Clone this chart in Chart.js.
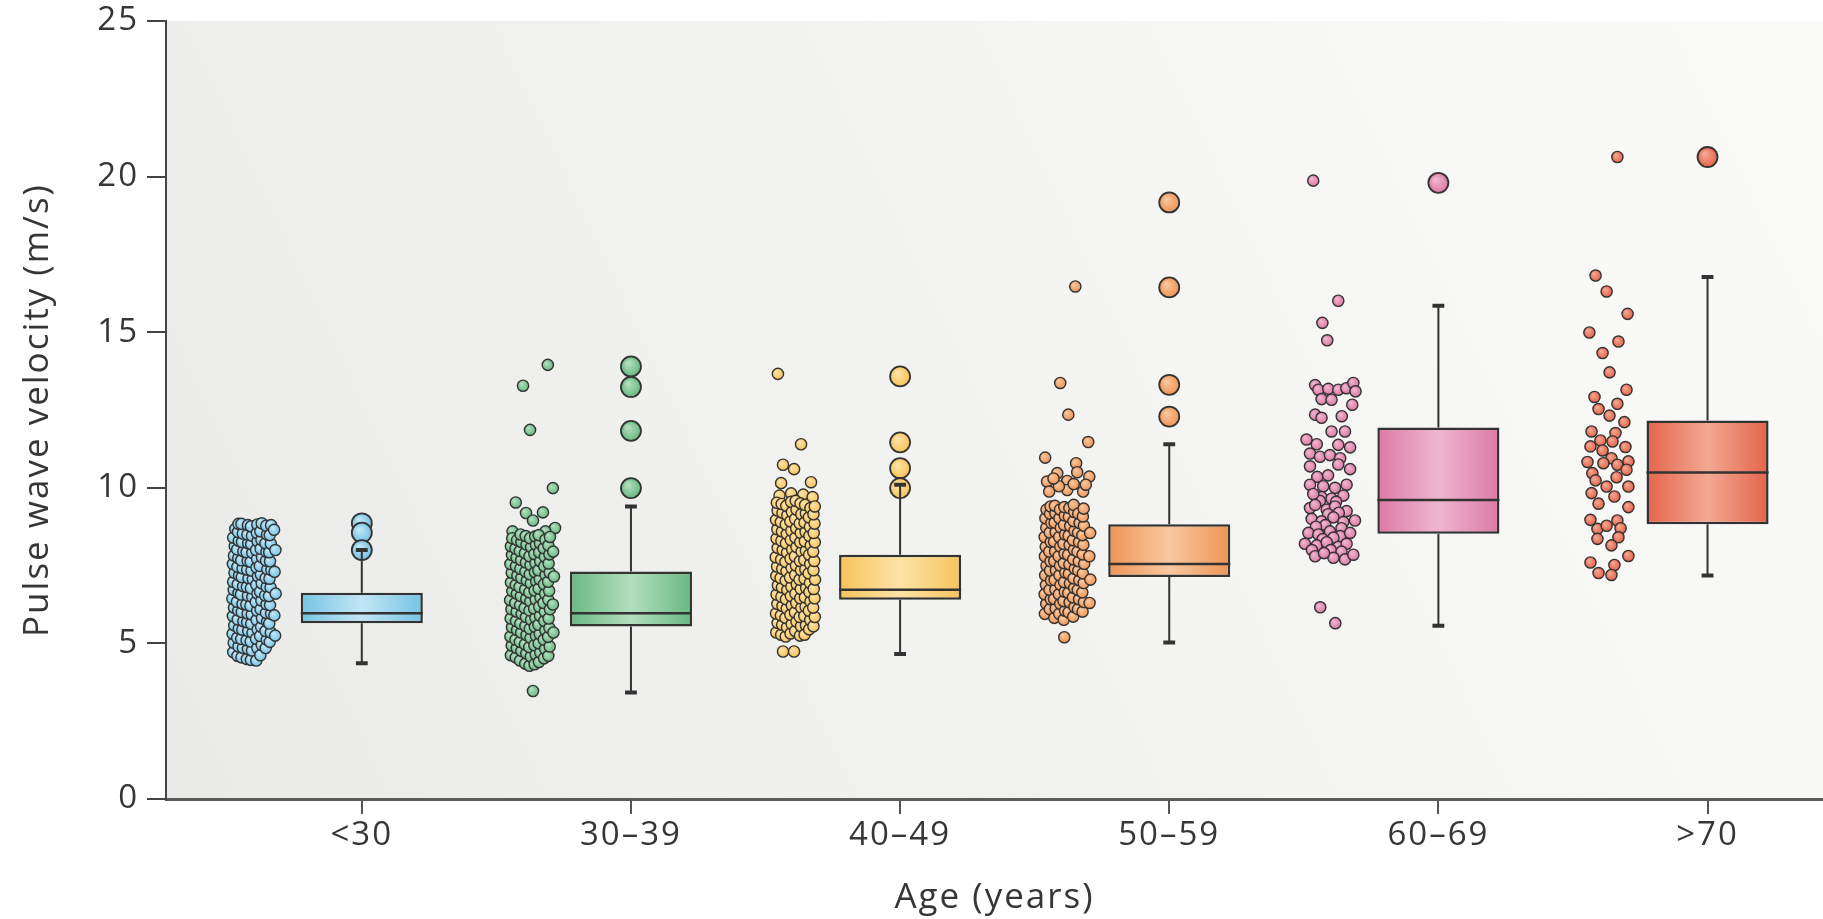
<!DOCTYPE html>
<html>
<head>
<meta charset="utf-8">
<script src="https://cdn.jsdelivr.net/npm/chart.js@4/dist/chart.umd.min.js"></script>
<style>
html,body{margin:0;padding:0;background:#fff;}
#c{display:block;}
</style>
</head>
<body>
<canvas id="c" width="1823" height="919"></canvas>
<script>
// ---------- DATA ----------
const categories = ['<30', '30–39', '40–49', '50–59', '60–69', '>70'];
const q1          = [5.65, 5.54, 6.40, 7.13, 8.52, 8.83];
const median      = [5.97, 5.97, 6.72, 7.55, 9.61, 10.49];
const q3          = [6.63, 7.31, 7.85, 8.83, 11.94, 12.16];
const whiskerLow  = [4.36, 3.42, 4.66, 5.03, 5.57, 7.18];
const whiskerHigh = [8.00, 9.40, 10.10, 11.40, 15.85, 16.77];
const outliers = [
  [8.86, 8.56, 8.00],
  [13.90, 13.24, 11.83, 9.99],
  [13.58, 11.46, 10.63, 9.99],
  [19.17, 16.44, 13.31, 12.29],
  [19.80],
  [20.63]
];
const yTicks = [0, 5, 10, 15, 20, 25];

// individual measurements: [offset from category position, value]
const cloudLt30 = [
[-0.478,4.72],[-0.476,5.02],[-0.480,5.31],[-0.474,5.58],[-0.479,5.88],[-0.475,6.15],[-0.481,6.44],[-0.476,6.72],[-0.478,6.98],[-0.473,7.27],[-0.479,7.55],[-0.475,7.82],[-0.472,8.12],[-0.478,8.40],[-0.470,8.68],
[-0.462,4.60],[-0.458,4.90],[-0.463,5.18],[-0.457,5.48],[-0.461,5.77],[-0.459,6.06],[-0.464,6.34],[-0.458,6.62],[-0.461,6.90],[-0.456,7.18],[-0.462,7.46],[-0.459,7.74],[-0.463,8.02],[-0.457,8.30],[-0.460,8.58],[-0.458,8.84],
[-0.447,4.55],[-0.442,4.86],[-0.448,5.14],[-0.444,5.44],[-0.440,5.71],[-0.446,6.01],[-0.443,6.27],[-0.449,6.57],[-0.441,6.84],[-0.446,7.13],[-0.443,7.41],[-0.448,7.67],[-0.440,7.96],[-0.445,8.26],[-0.442,8.53],[-0.447,8.84],
[-0.427,4.50],[-0.423,4.82],[-0.428,5.10],[-0.422,5.40],[-0.426,5.68],[-0.424,5.96],[-0.429,6.25],[-0.423,6.53],[-0.427,6.81],[-0.421,7.09],[-0.426,7.37],[-0.424,7.65],[-0.428,7.93],[-0.422,8.22],[-0.425,8.50],[-0.423,8.80],
[-0.412,4.47],[-0.408,4.77],[-0.413,5.06],[-0.406,5.34],[-0.411,5.63],[-0.409,5.93],[-0.414,6.21],[-0.407,6.49],[-0.412,6.77],[-0.405,7.06],[-0.410,7.34],[-0.413,7.62],[-0.407,7.91],[-0.411,8.19],[-0.408,8.46],[-0.412,8.76],
[-0.392,4.45],[-0.388,4.85],[-0.393,5.15],[-0.387,5.45],[-0.391,5.75],[-0.389,6.05],[-0.394,6.33],[-0.388,6.60],[-0.392,6.88],[-0.386,7.16],[-0.391,7.44],[-0.389,7.72],[-0.393,8.00],[-0.387,8.28],[-0.390,8.55],[-0.388,8.82],
[-0.377,4.62],[-0.372,4.95],[-0.378,5.24],[-0.374,5.53],[-0.371,5.81],[-0.376,6.10],[-0.373,6.38],[-0.378,6.66],[-0.372,6.93],[-0.375,7.21],[-0.379,7.49],[-0.371,7.77],[-0.376,8.04],[-0.373,8.33],[-0.377,8.60],[-0.372,8.86],
[-0.357,4.85],[-0.353,5.12],[-0.358,5.40],[-0.352,5.70],[-0.356,5.98],[-0.354,6.26],[-0.359,6.54],[-0.353,6.82],[-0.357,7.10],[-0.351,7.38],[-0.356,7.66],[-0.354,7.94],[-0.358,8.22],[-0.352,8.50],[-0.355,8.78],
[-0.342,5.05],[-0.338,5.35],[-0.344,5.64],[-0.337,5.95],[-0.341,6.23],[-0.345,6.52],[-0.339,6.80],[-0.343,7.08],[-0.336,7.36],[-0.341,7.64],[-0.344,7.93],[-0.338,8.20],[-0.342,8.48],[-0.337,8.80],
[-0.322,5.25],[-0.325,5.90],[-0.320,6.60],[-0.324,7.30],[-0.321,8.00],[-0.326,8.65]
];
const cloud3039 = [
[-0.309,13.95],[-0.401,13.28],[-0.375,11.86],[-0.290,9.99],[-0.428,9.53],[-0.390,9.19],[-0.327,9.21],[-0.364,8.95],[-0.364,3.47],
[-0.440,8.60],[-0.282,8.71],[-0.318,8.60],
[-0.446,4.62],[-0.443,4.93],[-0.448,5.22],[-0.442,5.52],[-0.447,5.80],[-0.444,6.10],[-0.449,6.39],[-0.441,6.68],[-0.446,6.96],[-0.443,7.27],[-0.448,7.55],[-0.442,7.84],[-0.446,8.12],[-0.441,8.38],
[-0.428,4.55],[-0.424,4.85],[-0.429,5.12],[-0.423,5.43],[-0.427,5.72],[-0.425,6.02],[-0.430,6.30],[-0.424,6.60],[-0.428,6.88],[-0.422,7.18],[-0.427,7.48],[-0.425,7.76],[-0.429,8.05],[-0.423,8.32],
[-0.412,4.45],[-0.407,4.76],[-0.413,5.05],[-0.408,5.35],[-0.411,5.64],[-0.406,5.95],[-0.412,6.23],[-0.409,6.52],[-0.414,6.81],[-0.407,7.10],[-0.411,7.40],[-0.408,7.68],[-0.413,7.97],[-0.407,8.26],[-0.410,8.50],
[-0.393,4.35],[-0.389,4.68],[-0.394,4.97],[-0.388,5.27],[-0.392,5.56],[-0.390,5.85],[-0.395,6.14],[-0.389,6.44],[-0.393,6.73],[-0.387,7.02],[-0.392,7.31],[-0.390,7.60],[-0.394,7.90],[-0.388,8.18],[-0.391,8.45],
[-0.377,4.28],[-0.372,4.58],[-0.378,4.88],[-0.373,5.18],[-0.376,5.47],[-0.371,5.76],[-0.377,6.06],[-0.374,6.35],[-0.378,6.64],[-0.372,6.93],[-0.376,7.22],[-0.373,7.52],[-0.377,7.80],[-0.371,8.10],[-0.375,8.38],
[-0.358,4.33],[-0.354,4.64],[-0.359,4.94],[-0.353,5.24],[-0.357,5.53],[-0.355,5.82],[-0.360,6.12],[-0.354,6.41],[-0.358,6.70],[-0.352,7.00],[-0.357,7.29],[-0.355,7.58],[-0.359,7.87],[-0.353,8.16],[-0.356,8.44],
[-0.342,4.40],[-0.337,4.71],[-0.343,5.00],[-0.339,5.30],[-0.344,5.60],[-0.338,5.89],[-0.341,6.18],[-0.336,6.47],[-0.343,6.76],[-0.339,7.06],[-0.344,7.35],[-0.337,7.64],[-0.341,7.93],[-0.338,8.22],[-0.343,8.48],
[-0.323,4.52],[-0.319,4.82],[-0.324,5.12],[-0.318,5.42],[-0.322,5.72],[-0.320,6.02],[-0.325,6.30],[-0.319,6.60],[-0.323,6.90],[-0.317,7.20],[-0.322,7.48],[-0.320,7.78],[-0.324,8.06],[-0.318,8.33],
[-0.307,4.60],[-0.302,4.90],[-0.308,5.21],[-0.303,5.50],[-0.306,5.80],[-0.301,6.10],[-0.307,6.40],[-0.304,6.69],[-0.308,6.98],[-0.302,7.28],[-0.306,7.57],[-0.303,7.86],[-0.307,8.15],[-0.301,8.42],
[-0.288,5.35],[-0.290,6.25],[-0.286,7.15],[-0.289,7.95]
];
const cloud4049 = [
[-0.454,13.66],[-0.368,11.40],[-0.435,10.74],[-0.394,10.60],[-0.442,10.15],[-0.331,10.18],[-0.435,4.74],[-0.394,4.74],
[-0.448,9.75],[-0.405,9.82],[-0.360,9.78],[-0.325,9.70],
[-0.460,5.35],[-0.455,5.66],[-0.461,5.96],[-0.456,6.27],[-0.459,6.57],[-0.454,6.87],[-0.460,7.17],[-0.457,7.47],[-0.462,7.77],[-0.455,8.07],[-0.459,8.37],[-0.456,8.67],[-0.461,8.97],[-0.455,9.27],[-0.458,9.52],
[-0.442,5.28],[-0.438,5.60],[-0.443,5.90],[-0.437,6.20],[-0.441,6.50],[-0.439,6.80],[-0.444,7.10],[-0.438,7.40],[-0.442,7.70],[-0.436,8.00],[-0.441,8.30],[-0.439,8.60],[-0.443,8.90],[-0.437,9.20],[-0.440,9.48],
[-0.425,5.22],[-0.420,5.52],[-0.426,5.82],[-0.421,6.12],[-0.424,6.42],[-0.419,6.72],[-0.425,7.02],[-0.422,7.32],[-0.426,7.62],[-0.420,7.92],[-0.424,8.22],[-0.421,8.52],[-0.425,8.82],[-0.419,9.12],[-0.423,9.42],
[-0.407,5.32],[-0.403,5.62],[-0.408,5.92],[-0.402,6.22],[-0.406,6.52],[-0.404,6.82],[-0.409,7.12],[-0.403,7.42],[-0.407,7.72],[-0.401,8.02],[-0.406,8.32],[-0.404,8.62],[-0.408,8.92],[-0.402,9.22],[-0.405,9.55],
[-0.390,5.40],[-0.385,5.70],[-0.391,6.00],[-0.386,6.30],[-0.389,6.60],[-0.384,6.90],[-0.390,7.20],[-0.387,7.50],[-0.391,7.80],[-0.385,8.10],[-0.389,8.40],[-0.386,8.70],[-0.390,9.00],[-0.385,9.30],[-0.388,9.58],
[-0.372,5.25],[-0.368,5.55],[-0.373,5.85],[-0.367,6.15],[-0.371,6.45],[-0.369,6.75],[-0.374,7.05],[-0.368,7.35],[-0.372,7.65],[-0.366,7.95],[-0.371,8.25],[-0.369,8.55],[-0.373,8.85],[-0.367,9.15],[-0.370,9.50],
[-0.355,5.28],[-0.350,5.58],[-0.356,5.88],[-0.351,6.18],[-0.354,6.48],[-0.349,6.78],[-0.355,7.08],[-0.352,7.38],[-0.356,7.68],[-0.350,7.98],[-0.354,8.28],[-0.351,8.58],[-0.355,8.88],[-0.350,9.18],[-0.353,9.45],
[-0.338,5.45],[-0.334,5.75],[-0.339,6.05],[-0.333,6.35],[-0.337,6.65],[-0.335,6.95],[-0.340,7.25],[-0.334,7.55],[-0.338,7.85],[-0.332,8.15],[-0.337,8.45],[-0.335,8.75],[-0.339,9.05],[-0.333,9.35],
[-0.322,5.55],[-0.317,5.85],[-0.323,6.15],[-0.318,6.45],[-0.321,6.75],[-0.316,7.05],[-0.322,7.35],[-0.319,7.65],[-0.323,7.95],[-0.317,8.25],[-0.321,8.55],[-0.318,8.85],[-0.322,9.15],[-0.317,9.40]
];
const cloud5059 = [
[-0.349,16.47],[-0.405,13.37],[-0.375,12.35],[-0.301,11.47],[-0.461,10.97],[-0.346,10.79],[-0.390,5.20],
[-0.416,10.47],[-0.342,10.50],[-0.454,10.20],[-0.379,10.22],[-0.297,10.36],[-0.446,9.88],[-0.379,9.93],[-0.320,9.88],[-0.410,10.05],[-0.355,10.12],[-0.430,10.30],[-0.310,10.10],
[-0.462,5.95],[-0.457,6.27],[-0.463,6.58],[-0.458,6.88],[-0.461,7.19],[-0.456,7.50],[-0.462,7.80],[-0.459,8.11],[-0.463,8.42],[-0.457,8.72],[-0.460,9.02],[-0.456,9.30],
[-0.444,6.10],[-0.440,6.42],[-0.445,6.72],[-0.439,7.03],[-0.443,7.34],[-0.441,7.64],[-0.446,7.95],[-0.440,8.26],[-0.444,8.56],[-0.438,8.87],[-0.443,9.17],[-0.441,9.40],
[-0.427,5.82],[-0.422,6.12],[-0.428,6.43],[-0.423,6.73],[-0.426,7.04],[-0.421,7.35],[-0.427,7.65],[-0.424,7.96],[-0.428,8.27],[-0.422,8.57],[-0.426,8.88],[-0.423,9.18],[-0.425,9.42],
[-0.409,5.95],[-0.405,6.27],[-0.410,6.58],[-0.404,6.88],[-0.408,7.19],[-0.406,7.50],[-0.411,7.80],[-0.405,8.11],[-0.409,8.42],[-0.403,8.72],[-0.408,9.02],[-0.406,9.30],
[-0.392,5.76],[-0.387,6.05],[-0.393,6.36],[-0.388,6.66],[-0.391,6.97],[-0.386,7.28],[-0.392,7.58],[-0.389,7.89],[-0.393,8.20],[-0.387,8.50],[-0.391,8.81],[-0.388,9.11],[-0.390,9.38],
[-0.374,6.00],[-0.370,6.32],[-0.375,6.62],[-0.369,6.93],[-0.373,7.24],[-0.371,7.54],[-0.376,7.85],[-0.370,8.16],[-0.374,8.46],[-0.368,8.77],[-0.373,9.07],[-0.371,9.35],
[-0.357,5.86],[-0.352,6.17],[-0.358,6.48],[-0.353,6.78],[-0.356,7.09],[-0.351,7.40],[-0.357,7.70],[-0.354,8.01],[-0.358,8.32],[-0.352,8.62],[-0.356,8.93],[-0.353,9.22],[-0.355,9.45],
[-0.339,6.10],[-0.335,6.42],[-0.340,6.72],[-0.334,7.03],[-0.338,7.34],[-0.336,7.64],[-0.341,7.95],[-0.335,8.26],[-0.339,8.56],[-0.333,8.87],[-0.338,9.17],
[-0.322,6.02],[-0.317,6.33],[-0.323,6.64],[-0.318,6.94],[-0.321,7.25],[-0.316,7.56],[-0.322,7.86],[-0.319,8.17],[-0.323,8.48],[-0.317,8.78],[-0.321,9.08],[-0.318,9.33],
[-0.296,6.30],[-0.293,7.05],[-0.297,7.80],[-0.294,8.55]
];
const cloud6069 = [
[-0.465,19.87],[-0.372,16.01],[-0.431,15.30],[-0.413,14.74],[-0.439,6.16],[-0.383,5.65],
[-0.458,13.30],[-0.446,13.15],[-0.409,13.18],[-0.372,13.15],[-0.342,13.20],[-0.316,13.37],[-0.308,13.10],
[-0.434,12.85],[-0.397,12.83],[-0.320,12.67],
[-0.458,12.35],[-0.434,12.25],[-0.359,12.30],
[-0.397,11.81],[-0.347,11.81],
[-0.490,11.55],[-0.452,11.40],[-0.372,11.38],[-0.328,11.30],
[-0.477,11.10],[-0.440,11.00],[-0.403,11.05],[-0.365,10.95],
[-0.477,10.69],[-0.372,10.75],[-0.328,10.60],
[-0.450,10.35],[-0.410,10.40],
[-0.477,10.10],[-0.428,10.05],[-0.384,10.00],[-0.341,10.10],
[-0.434,9.70],[-0.397,9.65],[-0.353,9.75],[-0.440,9.58],[-0.380,9.55],[-0.465,9.80],
[-0.477,9.35],[-0.458,9.45],[-0.415,9.30],[-0.384,9.40],[-0.341,9.25],[-0.410,9.15],[-0.370,9.20],
[-0.471,9.00],[-0.434,8.92],[-0.390,9.05],[-0.353,8.90],[-0.310,8.95],[-0.420,8.80],[-0.360,8.70],[-0.455,8.75],
[-0.483,8.55],[-0.446,8.50],[-0.403,8.60],[-0.365,8.45],[-0.328,8.55],[-0.430,8.35],[-0.390,8.40],
[-0.496,8.20],[-0.452,8.15],[-0.415,8.25],[-0.372,8.10],[-0.341,8.20],[-0.400,8.00],[-0.360,7.95],[-0.470,8.00],
[-0.458,7.80],[-0.390,7.75],[-0.347,7.70],[-0.316,7.85],[-0.425,7.90]
];
const cloudGt70 = [
[-0.335,20.63],[-0.416,16.82],[-0.375,16.31],[-0.297,15.59],[-0.439,14.99],[-0.331,14.70],[-0.390,14.33],[-0.364,13.71],
[-0.301,13.15],[-0.420,12.92],[-0.405,12.53],[-0.335,12.70],[-0.364,12.32],[-0.309,12.11],[-0.431,11.81],[-0.342,11.76],
[-0.398,11.52],[-0.353,11.49],[-0.435,11.33],[-0.390,11.20],[-0.305,11.31],[-0.357,10.95],[-0.446,10.83],[-0.387,10.79],
[-0.335,10.74],[-0.294,10.85],[-0.428,10.47],[-0.301,10.58],[-0.416,10.24],[-0.338,10.34],[-0.375,10.04],[-0.294,10.04],
[-0.431,9.83],[-0.346,9.72],[-0.405,9.49],[-0.294,9.38],[-0.435,8.97],[-0.335,8.95],[-0.409,8.68],[-0.375,8.78],
[-0.323,8.70],[-0.409,8.36],[-0.331,8.41],[-0.357,8.15],[-0.294,7.81],[-0.435,7.60],[-0.346,7.52],[-0.405,7.26],[-0.357,7.20]
];
const clouds = [cloudLt30, cloud3039, cloud4049, cloud5059, cloud6069, cloudGt70];

// ---------- STYLE ----------
const baseColors  = ['#76c3e4', '#69b982', '#f7c35a', '#ee9555', '#dd7aa5', '#e5644a'];
const lightColors = ['#c2e6f5', '#b3debe', '#fde3a8', '#f9c7a0', '#efb6cf', '#f3a893'];
const INK = '#333333';
const BOX_W = 0.4535;
const CAP_W = 0.022;
const X_MIN = -0.7275, X_MAX = 5.429;
const FONT = "'Open Sans', 'Liberation Sans', sans-serif";

function pointFill(i, r) {
  return (ctx) => {
    const c = ctx.chart, raw = ctx.raw;
    if (!raw || !c.chartArea) return baseColors[i];
    const px = c.scales.x.getPixelForValue(raw.x);
    const py = c.scales.y.getPixelForValue(raw.y);
    const g = c.ctx.createRadialGradient(px - r * 0.3, py - r * 0.35, r * 0.1, px, py, r);
    g.addColorStop(0, lightColors[i]);
    g.addColorStop(1, baseColors[i]);
    return g;
  };
}
function boxFill(ctx) {
  const c = ctx.chart, i = ctx.dataIndex;
  if (!c.chartArea) return baseColors[i];
  const x = c.scales.x;
  const l = x.getPixelForValue(i - BOX_W / 2), r = x.getPixelForValue(i + BOX_W / 2);
  const g = c.ctx.createLinearGradient(l, 0, r, 0);
  g.addColorStop(0, baseColors[i]);
  g.addColorStop(0.5, lightColors[i]);
  g.addColorStop(1, baseColors[i]);
  return g;
}

// ---------- DATASETS ----------
const capData = [], whiskerData = [], medianData = [];
categories.forEach((c, i) => {
  capData.push({x: i - CAP_W, y: whiskerHigh[i]}, {x: i + CAP_W, y: whiskerHigh[i]}, {x: i, y: null},
               {x: i - CAP_W, y: whiskerLow[i]},  {x: i + CAP_W, y: whiskerLow[i]},  {x: i, y: null});
  whiskerData.push({x: i, y: q3[i]}, {x: i, y: whiskerHigh[i]}, {x: i, y: null},
                   {x: i, y: q1[i]}, {x: i, y: whiskerLow[i]},  {x: i, y: null});
  medianData.push({x: i - BOX_W / 2, y: median[i]}, {x: i + BOX_W / 2, y: median[i]}, {x: i, y: null});
});

const datasets = [
  {type: 'line', data: capData, borderColor: INK, borderWidth: 4, pointRadius: 0, spanGaps: false, fill: false, order: 1},
  {type: 'line', data: whiskerData, borderColor: INK, borderWidth: 2, pointRadius: 0, spanGaps: false, fill: false, order: 2},
  {type: 'line', data: medianData, borderColor: INK, borderWidth: 2.5, pointRadius: 0, spanGaps: false, fill: false, order: 3},
  {type: 'bar', data: categories.map((c, i) => ({x: i, y: [q1[i], q3[i]]})),
   backgroundColor: boxFill, borderColor: INK, borderWidth: 2.5, borderSkipped: false,
   barPercentage: BOX_W, categoryPercentage: 1, grouped: false, order: 4}
];
categories.forEach((c, i) => {
  datasets.push({
    type: 'scatter', data: outliers[i].map(v => ({x: i, y: v})),
    pointRadius: 10, pointBorderWidth: 1.8, pointBorderColor: INK,
    pointBackgroundColor: pointFill(i, 10), order: 5
  });
  datasets.push({
    type: 'scatter', data: clouds[i].map(p => ({x: i + p[0], y: p[1]})),
    pointRadius: 5.6, pointBorderWidth: 1.4, pointBorderColor: INK,
    pointBackgroundColor: pointFill(i, 5.6), order: 6
  });
});

const bgPlugin = {
  id: 'bg',
  beforeDraw(chart) {
    const {ctx, chartArea: a} = chart;
    ctx.save();
    ctx.fillStyle = '#ffffff';
    ctx.fillRect(0, 0, chart.width, chart.height);
    const g = ctx.createLinearGradient(a.left, a.bottom, a.right, a.top);
    g.addColorStop(0, '#eaeae8');
    g.addColorStop(0.5, '#f3f3f1');
    g.addColorStop(1, '#fbfbfa');
    ctx.fillStyle = g;
    ctx.fillRect(a.left, a.top, a.right - a.left, a.bottom - a.top);
    ctx.restore();
    ctx.letterSpacing = '2px';
  }
};

new Chart(document.getElementById('c'), {
  type: 'scatter',
  data: {datasets},
  plugins: [bgPlugin],
  options: {
    responsive: false,
    devicePixelRatio: 1,
    animation: false,
    events: [],
    layout: {autoPadding: false, padding: {top: 0, right: 0, bottom: 0, left: 0}},
    plugins: {legend: {display: false}, tooltip: {enabled: false}},
    scales: {
      x: {
        type: 'linear', min: X_MIN, max: X_MAX, offset: false,
        afterBuildTicks: (s) => { s.ticks = categories.map((c, i) => ({value: i})); },
        afterFit: (s) => { s.height = 120; s.paddingLeft = 0; s.paddingRight = 0; },
        ticks: {callback: (v) => categories[v], font: {family: FONT, size: 33}, color: '#363636',
                padding: 2, maxRotation: 0, autoSkip: false},
        grid: {offset: false, drawOnChartArea: false, drawTicks: true, tickLength: 15, color: '#555', lineWidth: 2},
        border: {display: true, color: '#5c5c5c', width: 3},
        title: {display: true, text: 'Age (years)', font: {family: FONT, size: 35}, color: '#363636',
                padding: {top: 0, bottom: 0}}
      },
      y: {
        type: 'linear', min: 0, max: 25,
        afterBuildTicks: (s) => { s.ticks = yTicks.map(v => ({value: v})); },
        afterFit: (s) => { s.width = 166; s.paddingTop = 21; s.paddingBottom = 0; },
        ticks: {font: {family: FONT, size: 33}, color: '#363636', padding: 8},
        grid: {drawOnChartArea: false, drawTicks: true, tickLength: 19, color: '#444', lineWidth: 2},
        border: {display: true, color: '#444', width: 2},
        title: {display: true, text: 'Pulse wave velocity (m/s)', font: {family: FONT, size: 35}, color: '#363636',
                padding: {top: 17, bottom: 0}}
      }
    }
  }
});
</script>
</body>
</html>
